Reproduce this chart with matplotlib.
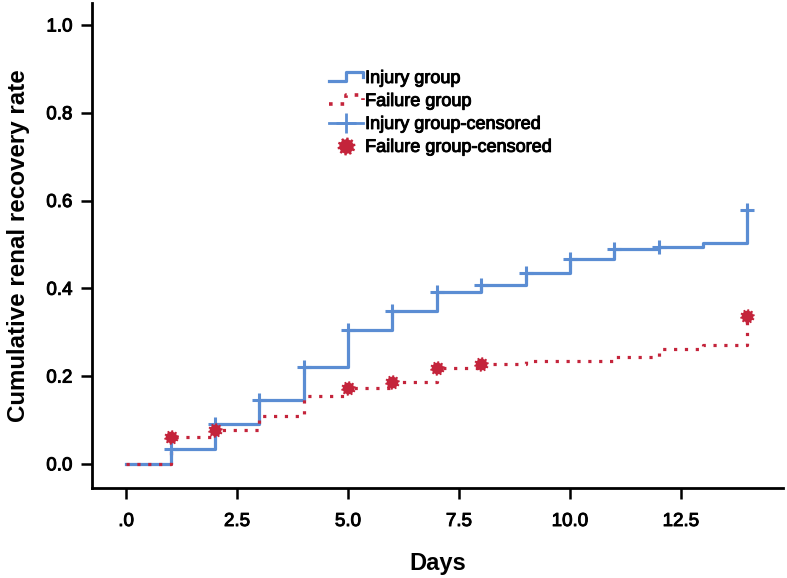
import numpy as np
import matplotlib
matplotlib.use("Agg")
import matplotlib.pyplot as plt
import matplotlib.patheffects as pe
from matplotlib.lines import Line2D
from matplotlib.path import Path
from matplotlib.legend_handler import HandlerBase

plt.rcParams["font.family"] = ["Liberation Sans", "DejaVu Sans"]

# Kaplan-Meier style cumulative recovery
days = [0, 1, 2, 3, 4, 5, 6, 7, 8, 9, 10, 11, 12, 13, 14]
injury_rate = [0.0, 0.034, 0.091, 0.146, 0.221, 0.305, 0.349, 0.392,
               0.408, 0.435, 0.467, 0.490, 0.493, 0.503, 0.579]
failure_rate = [0.0, 0.061, 0.077, 0.109, 0.155, 0.172, 0.187, 0.219,
                0.228, 0.235, 0.235, 0.244, 0.262, 0.271, 0.337]
injury_censored_days = [1, 2, 3, 4, 5, 6, 7, 8, 9, 10, 11, 12, 14]
failure_censored_days = [1, 2, 5, 6, 7, 8, 14]

x_ticks = [0, 2.5, 5.0, 7.5, 10.0, 12.5]
x_tick_labels = [".0", "2.5", "5.0", "7.5", "10.0", "12.5"]
y_ticks = [0.0, 0.2, 0.4, 0.6, 0.8, 1.0]
y_tick_labels = ["0.0", "0.2", "0.4", "0.6", "0.8", "1.0"]
labels = ["Injury group", "Failure group",
          "Injury group-censored", "Failure group-censored"]

BLUE = "#5B8DD3"
RED = "#C4243B"
DOTS = (0, (1, 2.4))
THICK = [pe.withStroke(linewidth=0.7, foreground="black")]


def gear_marker(teeth=10, r_out=1.0, r_in=0.8):
    verts = []
    step = 2 * np.pi / teeth
    for i in range(teeth):
        a = i * step
        for frac, r in [(0.0, r_in), (0.12, r_out), (0.5, r_out), (0.62, r_in)]:
            verts.append((r * np.cos(a + frac * step), r * np.sin(a + frac * step)))
    verts.append(verts[0])
    return Path(verts, closed=True)


GEAR = gear_marker()


class StepHandler(HandlerBase):
    def __init__(self, style="-"):
        super().__init__()
        self.style = style

    def create_artists(self, legend, orig_handle, xdescent, ydescent,
                       width, height, fontsize, trans):
        lo = -ydescent + 0.15 * height
        hi = -ydescent + 0.85 * height
        x0 = -xdescent
        xs = [x0, x0 + 0.5 * width, x0 + 0.5 * width, x0 + width, x0 + width]
        ys = [lo, lo, hi, hi, lo + 0.3 * height]
        ln = Line2D(xs, ys, color=orig_handle.get_color(),
                    linewidth=orig_handle.get_linewidth(),
                    linestyle=self.style, dash_capstyle="butt")
        ln.set_transform(trans)
        return [ln]


fig = plt.figure(figsize=(7.87, 5.78), dpi=100)
ax = fig.add_axes([92 / 787, 1 - 488 / 578, (783 - 92) / 787, (488 - 3) / 578])

ax.plot(days, injury_rate, drawstyle="steps-post", color=BLUE, linewidth=2.3)
ax.plot(days, failure_rate, drawstyle="steps-post", color=RED, linewidth=2.3,
        linestyle=DOTS, dash_capstyle="butt")

inj_c = [injury_rate[days.index(d)] for d in injury_censored_days]
fail_c = [failure_rate[days.index(d)] for d in failure_censored_days]
ax.plot(injury_censored_days, inj_c, linestyle="none", marker="+",
        markersize=10, markeredgewidth=2.2, color=BLUE)
ax.plot(failure_censored_days, fail_c, linestyle="none", marker=GEAR,
        markersize=10.5, color=RED, markeredgewidth=0)

ax.set_xlim(-0.77, 14.8)
ax.set_ylim(-0.055, 1.05)
ax.set_xticks(x_ticks)
ax.set_xticklabels(x_tick_labels)
ax.set_yticks(y_ticks)
ax.set_yticklabels(y_tick_labels)
ax.tick_params(axis="x", direction="out", length=8, width=1.8,
               labelsize=13.5, pad=10)
ax.tick_params(axis="y", direction="out", length=8, width=1.8,
               labelsize=13.5, pad=6)
for lbl in ax.get_xticklabels() + ax.get_yticklabels():
    lbl.set_path_effects(THICK)
for side in ["top", "right"]:
    ax.spines[side].set_visible(False)
for side in ["left", "bottom"]:
    ax.spines[side].set_linewidth(2)

ax.set_xlabel("Days", fontsize=17, fontweight="bold", labelpad=16)
ax.set_ylabel("Cumulative renal recovery rate", fontsize=17.4,
              fontweight="bold", labelpad=12)

h_inj = Line2D([], [], color=BLUE, linewidth=2.3)
h_fail = Line2D([], [], color=RED, linewidth=2.6)
h_inj_c = Line2D([], [], color=BLUE, linewidth=2, marker="+",
                 markersize=14, markeredgewidth=2)
h_fail_c = Line2D([], [], color=RED, linestyle="none", marker=GEAR,
                  markersize=13, markeredgewidth=0)
leg = fig.legend([h_inj, h_fail, h_inj_c, h_fail_c], labels,
                 loc="upper left", bbox_to_anchor=(329 / 787, 1 - 70 / 578),
                 frameon=False, fontsize=13, handlelength=1.9,
                 handletextpad=0.1, labelspacing=0.33, borderpad=0,
                 borderaxespad=0, numpoints=1,
                 handler_map={h_inj: StepHandler("-"),
                              h_fail: StepHandler((0, (1, 2.2)))})
for t in leg.get_texts():
    t.set_path_effects(THICK)

fig.savefig("out.png", dpi=100)
